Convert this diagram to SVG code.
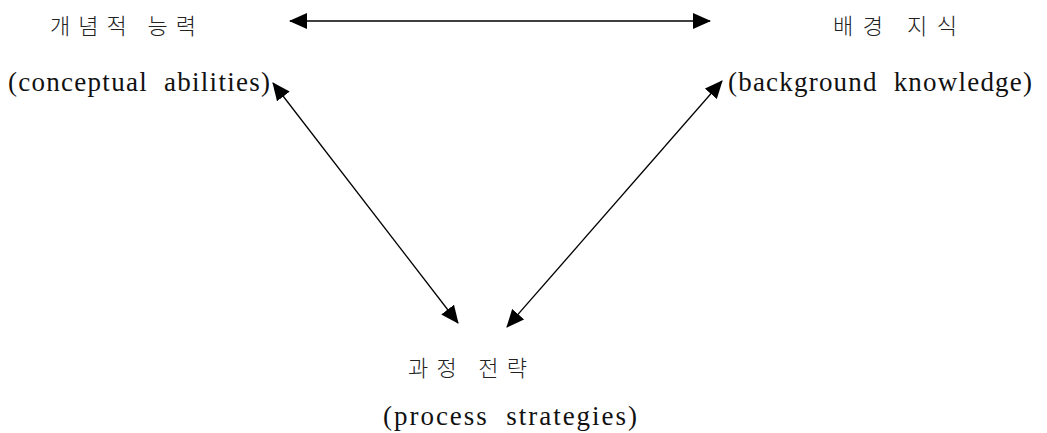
<svg xmlns="http://www.w3.org/2000/svg" width="1047" height="433" viewBox="0 0 1047 433">
<style>
.ko{font-family:"Noto Sans CJK KR","Noto Sans",sans-serif;font-size:22px;fill:#222;font-weight:300}
.en{font-family:"Liberation Serif","Times New Roman",serif;font-size:27px;fill:#111}
.ln{stroke:#000;stroke-width:1.3;fill:none}
</style>
<defs>
<marker id="ah" viewBox="0 0 18 16" refX="17" refY="8" markerWidth="18" markerHeight="16" markerUnits="userSpaceOnUse" orient="auto-start-reverse">
<path d="M0,0 L18,8 L0,16 Z" fill="#000"/>
</marker>
</defs>
<rect width="1047" height="433" fill="#fff"/>
<g id="node-conceptual">
<text class="ko" x="50" y="34" textLength="146" lengthAdjust="spacing">개념적 능력</text>
<text class="en" x="8" y="91" textLength="262" lengthAdjust="spacing" xml:space="preserve">(conceptual  abilities)</text>
</g>
<g id="node-background">
<text class="ko" x="833" y="34" textLength="124" lengthAdjust="spacing">배경 지식</text>
<text class="en" x="728" y="91" textLength="304" lengthAdjust="spacing" xml:space="preserve">(background  knowledge)</text>
</g>
<g id="node-process">
<text class="ko" x="408" y="376" textLength="119" lengthAdjust="spacing">과정 전략</text>
<text class="en" x="383" y="425" textLength="254" lengthAdjust="spacing" xml:space="preserve">(process  strategies)</text>
</g>
<g id="connectors">
<line class="ln" x1="290" y1="21" x2="710" y2="21" marker-start="url(#ah)" marker-end="url(#ah)"/>
<line class="ln" x1="273" y1="83" x2="458" y2="323" marker-start="url(#ah)" marker-end="url(#ah)"/>
<line class="ln" x1="722" y1="81" x2="507" y2="327" marker-start="url(#ah)" marker-end="url(#ah)"/>
</g>
</svg>
